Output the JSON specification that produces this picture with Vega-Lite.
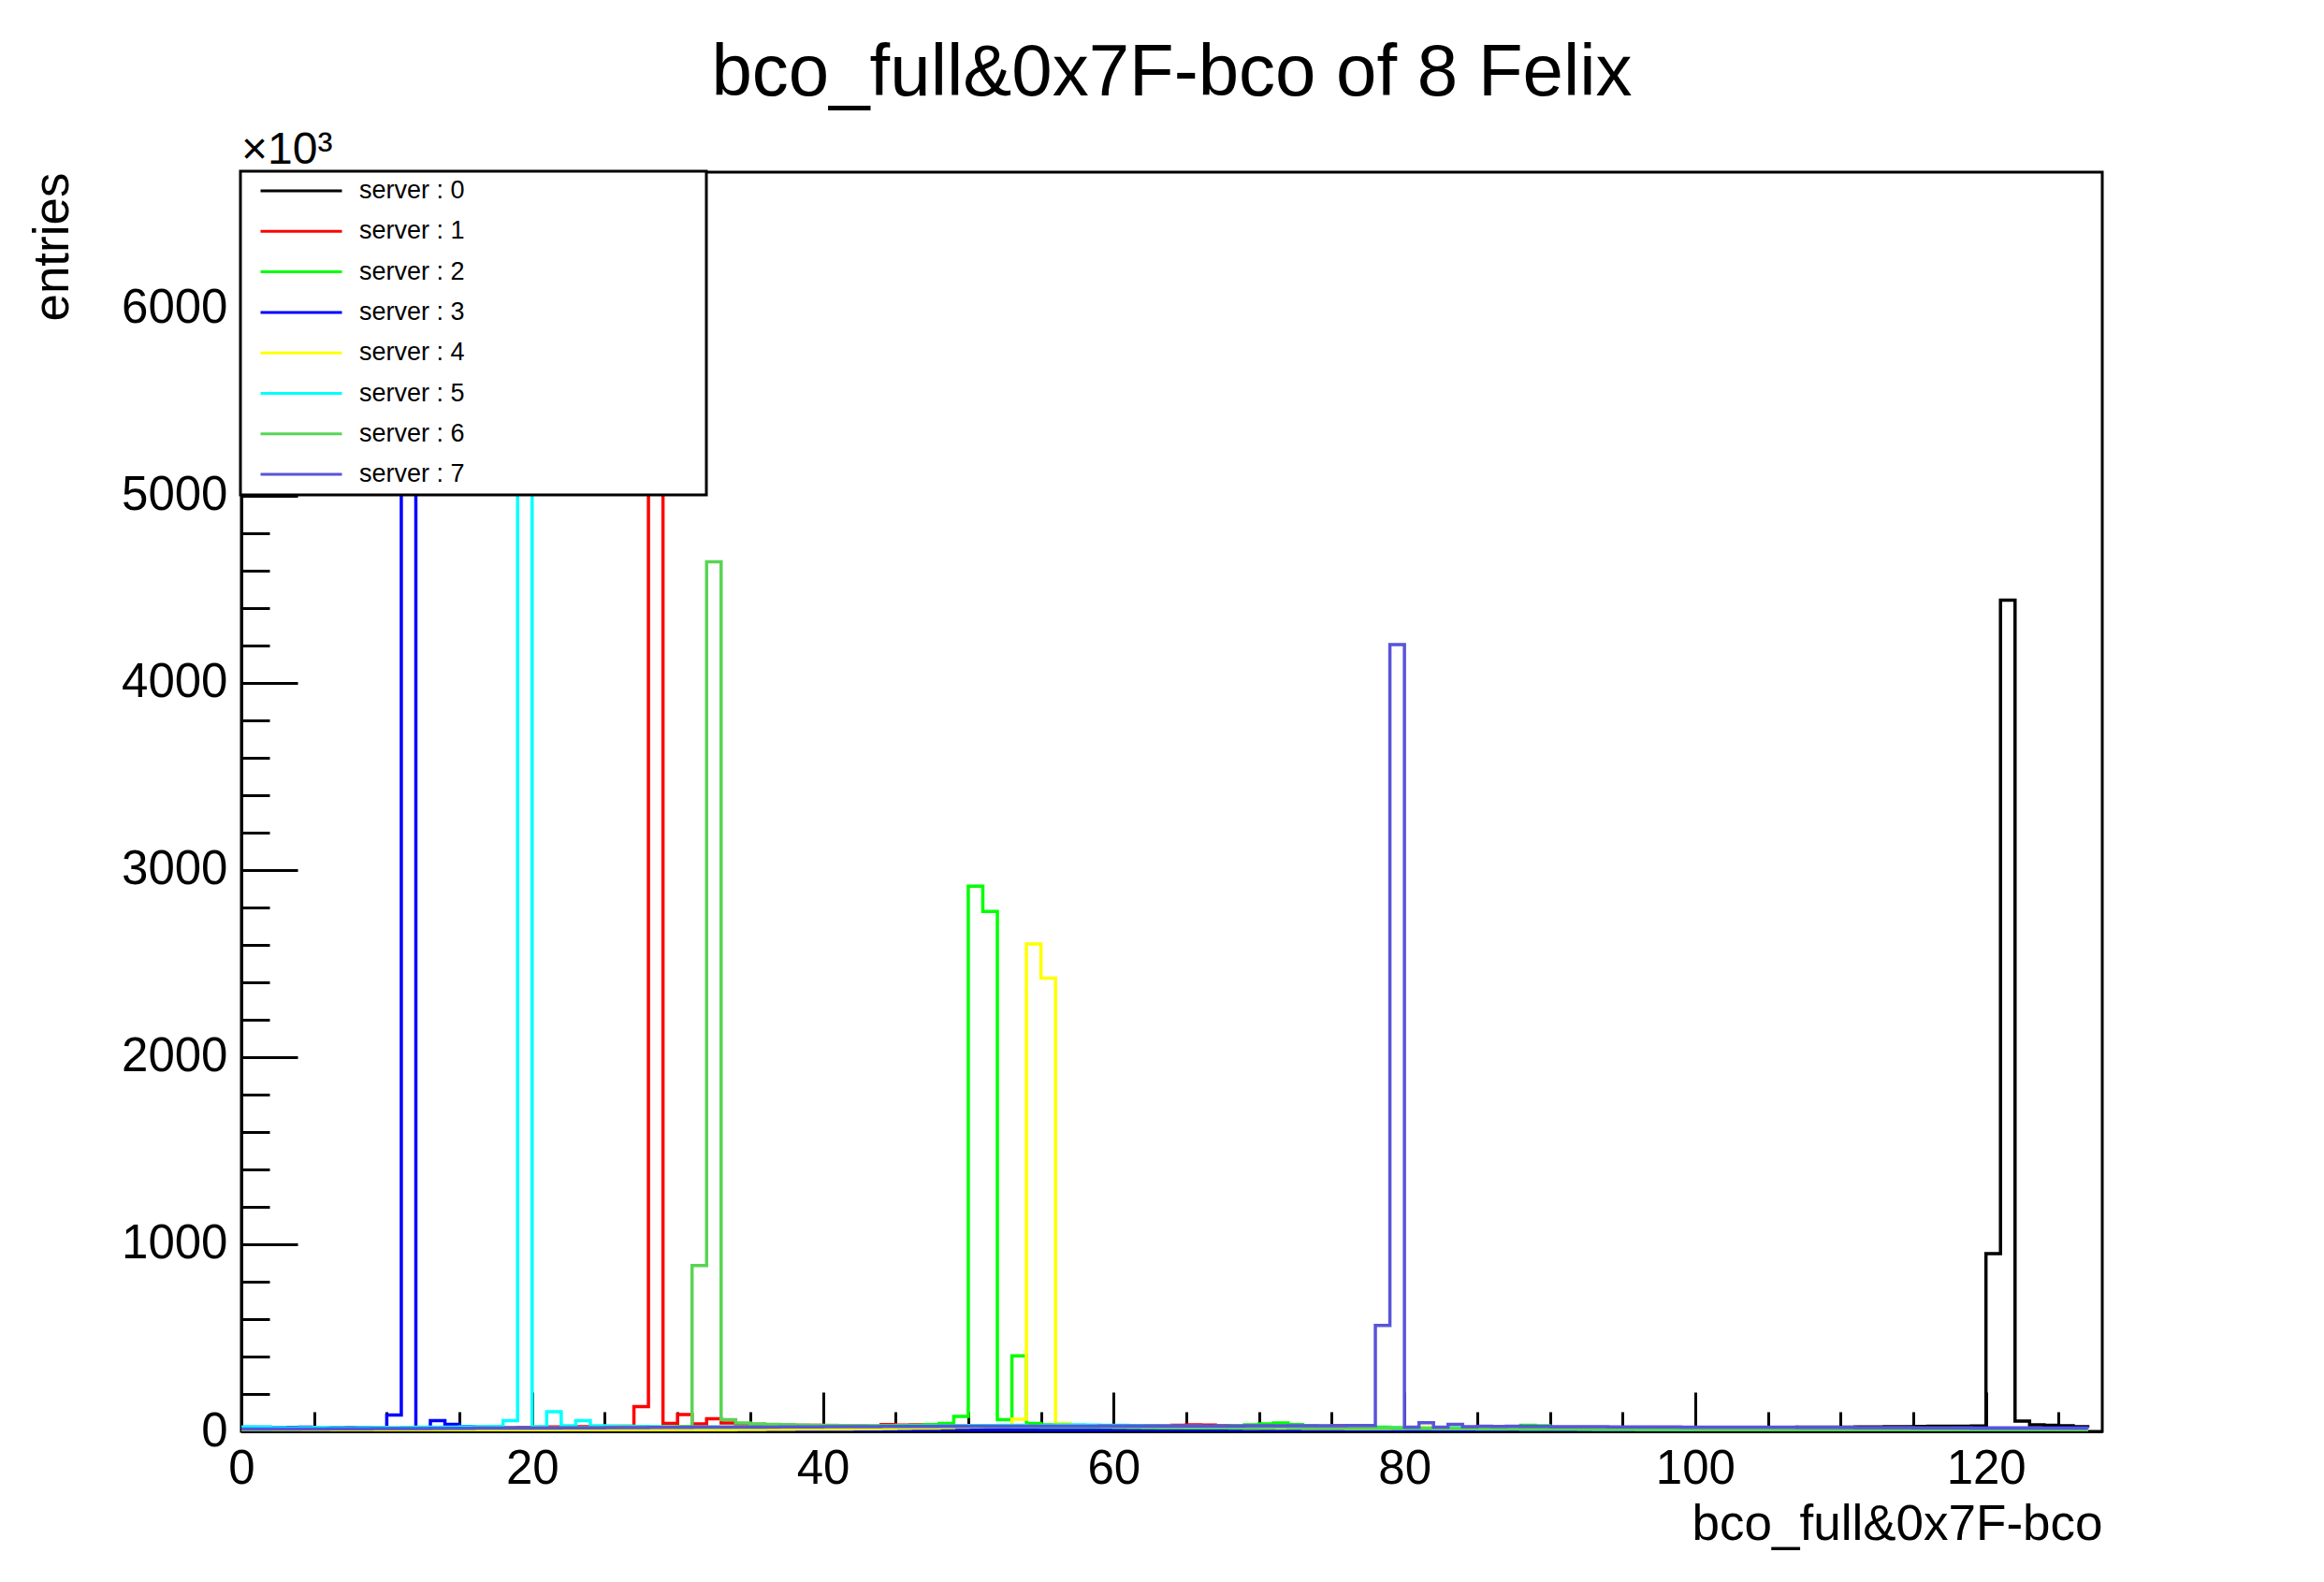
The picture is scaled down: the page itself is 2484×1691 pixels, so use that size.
{
  "$schema": "https://vega.github.io/schema/vega-lite/v6.json",
  "width": 1989,
  "height": 1346,
  "autosize": {"type": "none"},
  "padding": {"left": 258, "top": 184, "right": 237, "bottom": 161},
  "background": "white",
  "title": {
    "text": "bco_full&0x7F-bco of 8 Felix",
    "font": "Liberation Sans",
    "fontSize": 78,
    "fontWeight": "normal",
    "color": "black",
    "anchor": "middle",
    "frame": "group",
    "baseline": "alphabetic",
    "offset": 40,
    "dy": 83
  },
  "config": {
    "font": "Liberation Sans",
    "view": {"stroke": "black", "strokeWidth": 3},
    "axis": {
      "grid": false,
      "domainColor": "black",
      "domainWidth": 3,
      "tickColor": "black",
      "tickWidth": 3,
      "labelColor": "black",
      "labelFont": "Liberation Sans",
      "labelFontSize": 51,
      "labelOverlap": false,
      "labelFlush": false,
      "titleColor": "black",
      "titleFont": "Liberation Sans",
      "titleFontSize": 53,
      "titleFontWeight": "normal"
    }
  },
  "layer": [
    {
      "data": {
        "values": [
          {"srv":0,"bin":0,"n":18},{"srv":0,"bin":1,"n":16},{"srv":0,"bin":2,"n":15},{"srv":0,"bin":3,"n":14},{"srv":0,"bin":4,"n":14},{"srv":0,"bin":5,"n":13},{"srv":0,"bin":6,"n":12},{"srv":0,"bin":7,"n":12},{"srv":0,"bin":8,"n":11},{"srv":0,"bin":9,"n":11},
          {"srv":0,"bin":10,"n":10},{"srv":0,"bin":11,"n":10},{"srv":0,"bin":12,"n":9},{"srv":0,"bin":13,"n":9},{"srv":0,"bin":14,"n":9},{"srv":0,"bin":15,"n":8},{"srv":0,"bin":16,"n":8},{"srv":0,"bin":17,"n":8},{"srv":0,"bin":18,"n":9},{"srv":0,"bin":19,"n":8},
          {"srv":0,"bin":20,"n":8},{"srv":0,"bin":21,"n":7},{"srv":0,"bin":22,"n":7},{"srv":0,"bin":23,"n":8},{"srv":0,"bin":24,"n":7},{"srv":0,"bin":25,"n":7},{"srv":0,"bin":26,"n":7},{"srv":0,"bin":27,"n":6},{"srv":0,"bin":28,"n":7},{"srv":0,"bin":29,"n":7},
          {"srv":0,"bin":30,"n":8},{"srv":0,"bin":31,"n":7},{"srv":0,"bin":32,"n":7},{"srv":0,"bin":33,"n":6},{"srv":0,"bin":34,"n":6},{"srv":0,"bin":35,"n":6},{"srv":0,"bin":36,"n":7},{"srv":0,"bin":37,"n":6},{"srv":0,"bin":38,"n":6},{"srv":0,"bin":39,"n":6},
          {"srv":0,"bin":40,"n":6},{"srv":0,"bin":41,"n":6},{"srv":0,"bin":42,"n":6},{"srv":0,"bin":43,"n":5},{"srv":0,"bin":44,"n":6},{"srv":0,"bin":45,"n":6},{"srv":0,"bin":46,"n":5},{"srv":0,"bin":47,"n":5},{"srv":0,"bin":48,"n":6},{"srv":0,"bin":49,"n":5},
          {"srv":0,"bin":50,"n":5},{"srv":0,"bin":51,"n":5},{"srv":0,"bin":52,"n":5},{"srv":0,"bin":53,"n":6},{"srv":0,"bin":54,"n":5},{"srv":0,"bin":55,"n":5},{"srv":0,"bin":56,"n":5},{"srv":0,"bin":57,"n":5},{"srv":0,"bin":58,"n":5},{"srv":0,"bin":59,"n":5},
          {"srv":0,"bin":60,"n":5},{"srv":0,"bin":61,"n":6},{"srv":0,"bin":62,"n":5},{"srv":0,"bin":63,"n":5},{"srv":0,"bin":64,"n":5},{"srv":0,"bin":65,"n":6},{"srv":0,"bin":66,"n":6},{"srv":0,"bin":67,"n":6},{"srv":0,"bin":68,"n":7},{"srv":0,"bin":69,"n":6},
          {"srv":0,"bin":70,"n":7},{"srv":0,"bin":71,"n":7},{"srv":0,"bin":72,"n":7},{"srv":0,"bin":73,"n":8},{"srv":0,"bin":74,"n":8},{"srv":0,"bin":75,"n":8},{"srv":0,"bin":76,"n":9},{"srv":0,"bin":77,"n":9},{"srv":0,"bin":78,"n":9},{"srv":0,"bin":79,"n":10},
          {"srv":0,"bin":80,"n":10},{"srv":0,"bin":81,"n":10},{"srv":0,"bin":82,"n":11},{"srv":0,"bin":83,"n":11},{"srv":0,"bin":84,"n":11},{"srv":0,"bin":85,"n":12},{"srv":0,"bin":86,"n":12},{"srv":0,"bin":87,"n":12},{"srv":0,"bin":88,"n":13},{"srv":0,"bin":89,"n":13},
          {"srv":0,"bin":90,"n":14},{"srv":0,"bin":91,"n":14},{"srv":0,"bin":92,"n":14},{"srv":0,"bin":93,"n":15},{"srv":0,"bin":94,"n":15},{"srv":0,"bin":95,"n":16},{"srv":0,"bin":96,"n":16},{"srv":0,"bin":97,"n":17},{"srv":0,"bin":98,"n":17},{"srv":0,"bin":99,"n":18},
          {"srv":0,"bin":100,"n":18},{"srv":0,"bin":101,"n":19},{"srv":0,"bin":102,"n":19},{"srv":0,"bin":103,"n":20},{"srv":0,"bin":104,"n":20},{"srv":0,"bin":105,"n":21},{"srv":0,"bin":106,"n":21},{"srv":0,"bin":107,"n":22},{"srv":0,"bin":108,"n":22},{"srv":0,"bin":109,"n":23},
          {"srv":0,"bin":110,"n":23},{"srv":0,"bin":111,"n":24},{"srv":0,"bin":112,"n":24},{"srv":0,"bin":113,"n":25},{"srv":0,"bin":114,"n":25},{"srv":0,"bin":115,"n":26},{"srv":0,"bin":116,"n":27},{"srv":0,"bin":117,"n":27},{"srv":0,"bin":118,"n":28},{"srv":0,"bin":119,"n":29},
          {"srv":0,"bin":120,"n":950},{"srv":0,"bin":121,"n":4440},{"srv":0,"bin":122,"n":55},{"srv":0,"bin":123,"n":35},{"srv":0,"bin":124,"n":33},{"srv":0,"bin":125,"n":30},{"srv":0,"bin":126,"n":25},{"srv":0,"bin":127,"n":22},

          {"srv":1,"bin":0,"n":10},{"srv":1,"bin":1,"n":10},{"srv":1,"bin":2,"n":11},{"srv":1,"bin":3,"n":11},{"srv":1,"bin":4,"n":12},{"srv":1,"bin":5,"n":12},{"srv":1,"bin":6,"n":12},{"srv":1,"bin":7,"n":13},{"srv":1,"bin":8,"n":13},{"srv":1,"bin":9,"n":14},
          {"srv":1,"bin":10,"n":14},{"srv":1,"bin":11,"n":15},{"srv":1,"bin":12,"n":15},{"srv":1,"bin":13,"n":16},{"srv":1,"bin":14,"n":16},{"srv":1,"bin":15,"n":17},{"srv":1,"bin":16,"n":18},{"srv":1,"bin":17,"n":18},{"srv":1,"bin":18,"n":19},{"srv":1,"bin":19,"n":20},
          {"srv":1,"bin":20,"n":22},{"srv":1,"bin":21,"n":24},{"srv":1,"bin":22,"n":24},{"srv":1,"bin":23,"n":25},{"srv":1,"bin":24,"n":26},{"srv":1,"bin":25,"n":27},{"srv":1,"bin":26,"n":28},{"srv":1,"bin":27,"n":133},{"srv":1,"bin":28,"n":5710},{"srv":1,"bin":29,"n":42},
          {"srv":1,"bin":30,"n":90},{"srv":1,"bin":31,"n":40},{"srv":1,"bin":32,"n":67},{"srv":1,"bin":33,"n":45},{"srv":1,"bin":34,"n":40},{"srv":1,"bin":35,"n":38},{"srv":1,"bin":36,"n":36},{"srv":1,"bin":37,"n":34},{"srv":1,"bin":38,"n":33},{"srv":1,"bin":39,"n":32},
          {"srv":1,"bin":40,"n":30},{"srv":1,"bin":41,"n":30},{"srv":1,"bin":42,"n":29},{"srv":1,"bin":43,"n":28},{"srv":1,"bin":44,"n":36},{"srv":1,"bin":45,"n":34},{"srv":1,"bin":46,"n":35},{"srv":1,"bin":47,"n":30},{"srv":1,"bin":48,"n":28},{"srv":1,"bin":49,"n":27},
          {"srv":1,"bin":50,"n":26},{"srv":1,"bin":51,"n":25},{"srv":1,"bin":52,"n":26},{"srv":1,"bin":53,"n":27},{"srv":1,"bin":54,"n":28},{"srv":1,"bin":55,"n":30},{"srv":1,"bin":56,"n":29},{"srv":1,"bin":57,"n":28},{"srv":1,"bin":58,"n":27},{"srv":1,"bin":59,"n":26},
          {"srv":1,"bin":60,"n":28},{"srv":1,"bin":61,"n":30},{"srv":1,"bin":62,"n":30},{"srv":1,"bin":63,"n":29},{"srv":1,"bin":64,"n":32},{"srv":1,"bin":65,"n":35},{"srv":1,"bin":66,"n":34},{"srv":1,"bin":67,"n":30},{"srv":1,"bin":68,"n":28},{"srv":1,"bin":69,"n":27},
          {"srv":1,"bin":70,"n":26},{"srv":1,"bin":71,"n":25},{"srv":1,"bin":72,"n":24},{"srv":1,"bin":73,"n":24},{"srv":1,"bin":74,"n":23},{"srv":1,"bin":75,"n":30},{"srv":1,"bin":76,"n":22},{"srv":1,"bin":77,"n":21},{"srv":1,"bin":78,"n":20},{"srv":1,"bin":79,"n":20},
          {"srv":1,"bin":80,"n":19},{"srv":1,"bin":81,"n":18},{"srv":1,"bin":82,"n":17},{"srv":1,"bin":83,"n":16},{"srv":1,"bin":84,"n":16},{"srv":1,"bin":85,"n":15},{"srv":1,"bin":86,"n":14},{"srv":1,"bin":87,"n":14},{"srv":1,"bin":88,"n":13},{"srv":1,"bin":89,"n":13},
          {"srv":1,"bin":90,"n":12},{"srv":1,"bin":91,"n":12},{"srv":1,"bin":92,"n":11},{"srv":1,"bin":93,"n":11},{"srv":1,"bin":94,"n":10},{"srv":1,"bin":95,"n":10},{"srv":1,"bin":96,"n":10},{"srv":1,"bin":97,"n":9},{"srv":1,"bin":98,"n":9},{"srv":1,"bin":99,"n":9},
          {"srv":1,"bin":100,"n":8},{"srv":1,"bin":101,"n":8},{"srv":1,"bin":102,"n":8},{"srv":1,"bin":103,"n":8},{"srv":1,"bin":104,"n":7},{"srv":1,"bin":105,"n":7},{"srv":1,"bin":106,"n":7},{"srv":1,"bin":107,"n":7},{"srv":1,"bin":108,"n":7},{"srv":1,"bin":109,"n":6},
          {"srv":1,"bin":110,"n":6},{"srv":1,"bin":111,"n":6},{"srv":1,"bin":112,"n":6},{"srv":1,"bin":113,"n":6},{"srv":1,"bin":114,"n":6},{"srv":1,"bin":115,"n":6},{"srv":1,"bin":116,"n":6},{"srv":1,"bin":117,"n":5},{"srv":1,"bin":118,"n":5},{"srv":1,"bin":119,"n":5},
          {"srv":1,"bin":120,"n":5},{"srv":1,"bin":121,"n":5},{"srv":1,"bin":122,"n":5},{"srv":1,"bin":123,"n":5},{"srv":1,"bin":124,"n":5},{"srv":1,"bin":125,"n":5},{"srv":1,"bin":126,"n":5},{"srv":1,"bin":127,"n":5},

          {"srv":2,"bin":0,"n":8},{"srv":2,"bin":1,"n":8},{"srv":2,"bin":2,"n":9},{"srv":2,"bin":3,"n":9},{"srv":2,"bin":4,"n":9},{"srv":2,"bin":5,"n":10},{"srv":2,"bin":6,"n":10},{"srv":2,"bin":7,"n":10},{"srv":2,"bin":8,"n":11},{"srv":2,"bin":9,"n":11},
          {"srv":2,"bin":10,"n":11},{"srv":2,"bin":11,"n":12},{"srv":2,"bin":12,"n":12},{"srv":2,"bin":13,"n":12},{"srv":2,"bin":14,"n":13},{"srv":2,"bin":15,"n":13},{"srv":2,"bin":16,"n":14},{"srv":2,"bin":17,"n":14},{"srv":2,"bin":18,"n":15},{"srv":2,"bin":19,"n":15},
          {"srv":2,"bin":20,"n":16},{"srv":2,"bin":21,"n":16},{"srv":2,"bin":22,"n":17},{"srv":2,"bin":23,"n":17},{"srv":2,"bin":24,"n":18},{"srv":2,"bin":25,"n":18},{"srv":2,"bin":26,"n":19},{"srv":2,"bin":27,"n":20},{"srv":2,"bin":28,"n":20},{"srv":2,"bin":29,"n":21},
          {"srv":2,"bin":30,"n":21},{"srv":2,"bin":31,"n":22},{"srv":2,"bin":32,"n":22},{"srv":2,"bin":33,"n":23},{"srv":2,"bin":34,"n":23},{"srv":2,"bin":35,"n":24},{"srv":2,"bin":36,"n":24},{"srv":2,"bin":37,"n":25},{"srv":2,"bin":38,"n":26},{"srv":2,"bin":39,"n":26},
          {"srv":2,"bin":40,"n":27},{"srv":2,"bin":41,"n":28},{"srv":2,"bin":42,"n":28},{"srv":2,"bin":43,"n":29},{"srv":2,"bin":44,"n":30},{"srv":2,"bin":45,"n":31},{"srv":2,"bin":46,"n":33},{"srv":2,"bin":47,"n":36},{"srv":2,"bin":48,"n":42},{"srv":2,"bin":49,"n":80},
          {"srv":2,"bin":50,"n":2912},{"srv":2,"bin":51,"n":2778},{"srv":2,"bin":52,"n":63},{"srv":2,"bin":53,"n":404},{"srv":2,"bin":54,"n":42},{"srv":2,"bin":55,"n":35},{"srv":2,"bin":56,"n":32},{"srv":2,"bin":57,"n":30},{"srv":2,"bin":58,"n":29},{"srv":2,"bin":59,"n":28},
          {"srv":2,"bin":60,"n":27},{"srv":2,"bin":61,"n":27},{"srv":2,"bin":62,"n":26},{"srv":2,"bin":63,"n":26},{"srv":2,"bin":64,"n":25},{"srv":2,"bin":65,"n":25},{"srv":2,"bin":66,"n":26},{"srv":2,"bin":67,"n":27},{"srv":2,"bin":68,"n":30},{"srv":2,"bin":69,"n":35},
          {"srv":2,"bin":70,"n":40},{"srv":2,"bin":71,"n":45},{"srv":2,"bin":72,"n":36},{"srv":2,"bin":73,"n":30},{"srv":2,"bin":74,"n":27},{"srv":2,"bin":75,"n":25},{"srv":2,"bin":76,"n":24},{"srv":2,"bin":77,"n":23},{"srv":2,"bin":78,"n":22},{"srv":2,"bin":79,"n":21},
          {"srv":2,"bin":80,"n":20},{"srv":2,"bin":81,"n":20},{"srv":2,"bin":82,"n":19},{"srv":2,"bin":83,"n":19},{"srv":2,"bin":84,"n":18},{"srv":2,"bin":85,"n":18},{"srv":2,"bin":86,"n":20},{"srv":2,"bin":87,"n":24},{"srv":2,"bin":88,"n":32},{"srv":2,"bin":89,"n":30},
          {"srv":2,"bin":90,"n":18},{"srv":2,"bin":91,"n":17},{"srv":2,"bin":92,"n":16},{"srv":2,"bin":93,"n":16},{"srv":2,"bin":94,"n":15},{"srv":2,"bin":95,"n":15},{"srv":2,"bin":96,"n":14},{"srv":2,"bin":97,"n":14},{"srv":2,"bin":98,"n":13},{"srv":2,"bin":99,"n":13},
          {"srv":2,"bin":100,"n":12},{"srv":2,"bin":101,"n":12},{"srv":2,"bin":102,"n":12},{"srv":2,"bin":103,"n":11},{"srv":2,"bin":104,"n":11},{"srv":2,"bin":105,"n":11},{"srv":2,"bin":106,"n":10},{"srv":2,"bin":107,"n":10},{"srv":2,"bin":108,"n":10},{"srv":2,"bin":109,"n":10},
          {"srv":2,"bin":110,"n":9},{"srv":2,"bin":111,"n":9},{"srv":2,"bin":112,"n":9},{"srv":2,"bin":113,"n":9},{"srv":2,"bin":114,"n":8},{"srv":2,"bin":115,"n":8},{"srv":2,"bin":116,"n":8},{"srv":2,"bin":117,"n":8},{"srv":2,"bin":118,"n":8},{"srv":2,"bin":119,"n":8},
          {"srv":2,"bin":120,"n":7},{"srv":2,"bin":121,"n":7},{"srv":2,"bin":122,"n":7},{"srv":2,"bin":123,"n":7},{"srv":2,"bin":124,"n":7},{"srv":2,"bin":125,"n":7},{"srv":2,"bin":126,"n":7},{"srv":2,"bin":127,"n":7},

          {"srv":3,"bin":0,"n":22},{"srv":3,"bin":1,"n":22},{"srv":3,"bin":2,"n":21},{"srv":3,"bin":3,"n":21},{"srv":3,"bin":4,"n":22},{"srv":3,"bin":5,"n":21},{"srv":3,"bin":6,"n":20},{"srv":3,"bin":7,"n":20},{"srv":3,"bin":8,"n":20},{"srv":3,"bin":9,"n":21},
          {"srv":3,"bin":10,"n":88},{"srv":3,"bin":11,"n":6406},{"srv":3,"bin":12,"n":15},{"srv":3,"bin":13,"n":58},{"srv":3,"bin":14,"n":37},{"srv":3,"bin":15,"n":25},{"srv":3,"bin":16,"n":22},{"srv":3,"bin":17,"n":20},{"srv":3,"bin":18,"n":18},{"srv":3,"bin":19,"n":17},
          {"srv":3,"bin":20,"n":16},{"srv":3,"bin":21,"n":15},{"srv":3,"bin":22,"n":15},{"srv":3,"bin":23,"n":14},{"srv":3,"bin":24,"n":14},{"srv":3,"bin":25,"n":13},{"srv":3,"bin":26,"n":13},{"srv":3,"bin":27,"n":12},{"srv":3,"bin":28,"n":12},{"srv":3,"bin":29,"n":12},
          {"srv":3,"bin":30,"n":11},{"srv":3,"bin":31,"n":11},{"srv":3,"bin":32,"n":11},{"srv":3,"bin":33,"n":10},{"srv":3,"bin":34,"n":10},{"srv":3,"bin":35,"n":10},{"srv":3,"bin":36,"n":10},{"srv":3,"bin":37,"n":9},{"srv":3,"bin":38,"n":9},{"srv":3,"bin":39,"n":9},
          {"srv":3,"bin":40,"n":9},{"srv":3,"bin":41,"n":9},{"srv":3,"bin":42,"n":8},{"srv":3,"bin":43,"n":8},{"srv":3,"bin":44,"n":8},{"srv":3,"bin":45,"n":8},{"srv":3,"bin":46,"n":8},{"srv":3,"bin":47,"n":8},{"srv":3,"bin":48,"n":8},{"srv":3,"bin":49,"n":7},
          {"srv":3,"bin":50,"n":7},{"srv":3,"bin":51,"n":7},{"srv":3,"bin":52,"n":7},{"srv":3,"bin":53,"n":7},{"srv":3,"bin":54,"n":7},{"srv":3,"bin":55,"n":7},{"srv":3,"bin":56,"n":7},{"srv":3,"bin":57,"n":7},{"srv":3,"bin":58,"n":7},{"srv":3,"bin":59,"n":7},
          {"srv":3,"bin":60,"n":7},{"srv":3,"bin":61,"n":7},{"srv":3,"bin":62,"n":7},{"srv":3,"bin":63,"n":7},{"srv":3,"bin":64,"n":7},{"srv":3,"bin":65,"n":7},{"srv":3,"bin":66,"n":7},{"srv":3,"bin":67,"n":7},{"srv":3,"bin":68,"n":7},{"srv":3,"bin":69,"n":7},
          {"srv":3,"bin":70,"n":7},{"srv":3,"bin":71,"n":7},{"srv":3,"bin":72,"n":8},{"srv":3,"bin":73,"n":8},{"srv":3,"bin":74,"n":8},{"srv":3,"bin":75,"n":8},{"srv":3,"bin":76,"n":8},{"srv":3,"bin":77,"n":8},{"srv":3,"bin":78,"n":8},{"srv":3,"bin":79,"n":8},
          {"srv":3,"bin":80,"n":8},{"srv":3,"bin":81,"n":9},{"srv":3,"bin":82,"n":9},{"srv":3,"bin":83,"n":9},{"srv":3,"bin":84,"n":9},{"srv":3,"bin":85,"n":9},{"srv":3,"bin":86,"n":9},{"srv":3,"bin":87,"n":10},{"srv":3,"bin":88,"n":10},{"srv":3,"bin":89,"n":10},
          {"srv":3,"bin":90,"n":10},{"srv":3,"bin":91,"n":10},{"srv":3,"bin":92,"n":10},{"srv":3,"bin":93,"n":11},{"srv":3,"bin":94,"n":11},{"srv":3,"bin":95,"n":11},{"srv":3,"bin":96,"n":11},{"srv":3,"bin":97,"n":11},{"srv":3,"bin":98,"n":12},{"srv":3,"bin":99,"n":12},
          {"srv":3,"bin":100,"n":12},{"srv":3,"bin":101,"n":12},{"srv":3,"bin":102,"n":12},{"srv":3,"bin":103,"n":13},{"srv":3,"bin":104,"n":13},{"srv":3,"bin":105,"n":13},{"srv":3,"bin":106,"n":13},{"srv":3,"bin":107,"n":14},{"srv":3,"bin":108,"n":14},{"srv":3,"bin":109,"n":14},
          {"srv":3,"bin":110,"n":14},{"srv":3,"bin":111,"n":15},{"srv":3,"bin":112,"n":15},{"srv":3,"bin":113,"n":15},{"srv":3,"bin":114,"n":15},{"srv":3,"bin":115,"n":16},{"srv":3,"bin":116,"n":16},{"srv":3,"bin":117,"n":16},{"srv":3,"bin":118,"n":17},{"srv":3,"bin":119,"n":17},
          {"srv":3,"bin":120,"n":17},{"srv":3,"bin":121,"n":18},{"srv":3,"bin":122,"n":18},{"srv":3,"bin":123,"n":18},{"srv":3,"bin":124,"n":18},{"srv":3,"bin":125,"n":19},{"srv":3,"bin":126,"n":19},{"srv":3,"bin":127,"n":19},

          {"srv":4,"bin":0,"n":5},{"srv":4,"bin":1,"n":5},{"srv":4,"bin":2,"n":5},{"srv":4,"bin":3,"n":5},{"srv":4,"bin":4,"n":5},{"srv":4,"bin":5,"n":5},{"srv":4,"bin":6,"n":5},{"srv":4,"bin":7,"n":5},{"srv":4,"bin":8,"n":5},{"srv":4,"bin":9,"n":5},
          {"srv":4,"bin":10,"n":5},{"srv":4,"bin":11,"n":5},{"srv":4,"bin":12,"n":5},{"srv":4,"bin":13,"n":5},{"srv":4,"bin":14,"n":6},{"srv":4,"bin":15,"n":6},{"srv":4,"bin":16,"n":6},{"srv":4,"bin":17,"n":6},{"srv":4,"bin":18,"n":6},{"srv":4,"bin":19,"n":6},
          {"srv":4,"bin":20,"n":6},{"srv":4,"bin":21,"n":6},{"srv":4,"bin":22,"n":6},{"srv":4,"bin":23,"n":7},{"srv":4,"bin":24,"n":7},{"srv":4,"bin":25,"n":7},{"srv":4,"bin":26,"n":7},{"srv":4,"bin":27,"n":7},{"srv":4,"bin":28,"n":8},{"srv":4,"bin":29,"n":8},
          {"srv":4,"bin":30,"n":8},{"srv":4,"bin":31,"n":8},{"srv":4,"bin":32,"n":9},{"srv":4,"bin":33,"n":9},{"srv":4,"bin":34,"n":10},{"srv":4,"bin":35,"n":10},{"srv":4,"bin":36,"n":11},{"srv":4,"bin":37,"n":11},{"srv":4,"bin":38,"n":12},{"srv":4,"bin":39,"n":12},
          {"srv":4,"bin":40,"n":13},{"srv":4,"bin":41,"n":13},{"srv":4,"bin":42,"n":14},{"srv":4,"bin":43,"n":14},{"srv":4,"bin":44,"n":15},{"srv":4,"bin":45,"n":16},{"srv":4,"bin":46,"n":17},{"srv":4,"bin":47,"n":18},{"srv":4,"bin":48,"n":20},{"srv":4,"bin":49,"n":22},
          {"srv":4,"bin":50,"n":24},{"srv":4,"bin":51,"n":26},{"srv":4,"bin":52,"n":30},{"srv":4,"bin":53,"n":65},{"srv":4,"bin":54,"n":2604},{"srv":4,"bin":55,"n":2422},{"srv":4,"bin":56,"n":42},{"srv":4,"bin":57,"n":30},{"srv":4,"bin":58,"n":27},{"srv":4,"bin":59,"n":25},
          {"srv":4,"bin":60,"n":24},{"srv":4,"bin":61,"n":23},{"srv":4,"bin":62,"n":22},{"srv":4,"bin":63,"n":21},{"srv":4,"bin":64,"n":21},{"srv":4,"bin":65,"n":20},{"srv":4,"bin":66,"n":20},{"srv":4,"bin":67,"n":19},{"srv":4,"bin":68,"n":19},{"srv":4,"bin":69,"n":18},
          {"srv":4,"bin":70,"n":18},{"srv":4,"bin":71,"n":17},{"srv":4,"bin":72,"n":17},{"srv":4,"bin":73,"n":16},{"srv":4,"bin":74,"n":16},{"srv":4,"bin":75,"n":16},{"srv":4,"bin":76,"n":15},{"srv":4,"bin":77,"n":15},{"srv":4,"bin":78,"n":15},{"srv":4,"bin":79,"n":18},
          {"srv":4,"bin":80,"n":20},{"srv":4,"bin":81,"n":22},{"srv":4,"bin":82,"n":18},{"srv":4,"bin":83,"n":17},{"srv":4,"bin":84,"n":17},{"srv":4,"bin":85,"n":21},{"srv":4,"bin":86,"n":22},{"srv":4,"bin":87,"n":22},{"srv":4,"bin":88,"n":20},{"srv":4,"bin":89,"n":19},
          {"srv":4,"bin":90,"n":18},{"srv":4,"bin":91,"n":17},{"srv":4,"bin":92,"n":16},{"srv":4,"bin":93,"n":15},{"srv":4,"bin":94,"n":15},{"srv":4,"bin":95,"n":14},{"srv":4,"bin":96,"n":14},{"srv":4,"bin":97,"n":13},{"srv":4,"bin":98,"n":13},{"srv":4,"bin":99,"n":12},
          {"srv":4,"bin":100,"n":12},{"srv":4,"bin":101,"n":11},{"srv":4,"bin":102,"n":11},{"srv":4,"bin":103,"n":11},{"srv":4,"bin":104,"n":10},{"srv":4,"bin":105,"n":10},{"srv":4,"bin":106,"n":10},{"srv":4,"bin":107,"n":9},{"srv":4,"bin":108,"n":9},{"srv":4,"bin":109,"n":9},
          {"srv":4,"bin":110,"n":9},{"srv":4,"bin":111,"n":8},{"srv":4,"bin":112,"n":8},{"srv":4,"bin":113,"n":8},{"srv":4,"bin":114,"n":8},{"srv":4,"bin":115,"n":7},{"srv":4,"bin":116,"n":7},{"srv":4,"bin":117,"n":7},{"srv":4,"bin":118,"n":7},{"srv":4,"bin":119,"n":7},
          {"srv":4,"bin":120,"n":6},{"srv":4,"bin":121,"n":6},{"srv":4,"bin":122,"n":6},{"srv":4,"bin":123,"n":6},{"srv":4,"bin":124,"n":6},{"srv":4,"bin":125,"n":6},{"srv":4,"bin":126,"n":6},{"srv":4,"bin":127,"n":6},

          {"srv":5,"bin":0,"n":24},{"srv":5,"bin":1,"n":22},{"srv":5,"bin":2,"n":20},{"srv":5,"bin":3,"n":19},{"srv":5,"bin":4,"n":20},{"srv":5,"bin":5,"n":21},{"srv":5,"bin":6,"n":20},{"srv":5,"bin":7,"n":19},{"srv":5,"bin":8,"n":20},{"srv":5,"bin":9,"n":21},
          {"srv":5,"bin":10,"n":20},{"srv":5,"bin":11,"n":21},{"srv":5,"bin":12,"n":22},{"srv":5,"bin":13,"n":22},{"srv":5,"bin":14,"n":23},{"srv":5,"bin":15,"n":24},{"srv":5,"bin":16,"n":25},{"srv":5,"bin":17,"n":26},{"srv":5,"bin":18,"n":57},{"srv":5,"bin":19,"n":6080},
          {"srv":5,"bin":20,"n":25},{"srv":5,"bin":21,"n":105},{"srv":5,"bin":22,"n":30},{"srv":5,"bin":23,"n":57},{"srv":5,"bin":24,"n":30},{"srv":5,"bin":25,"n":28},{"srv":5,"bin":26,"n":27},{"srv":5,"bin":27,"n":26},{"srv":5,"bin":28,"n":25},{"srv":5,"bin":29,"n":24},
          {"srv":5,"bin":30,"n":23},{"srv":5,"bin":31,"n":23},{"srv":5,"bin":32,"n":22},{"srv":5,"bin":33,"n":22},{"srv":5,"bin":34,"n":22},{"srv":5,"bin":35,"n":23},{"srv":5,"bin":36,"n":24},{"srv":5,"bin":37,"n":25},{"srv":5,"bin":38,"n":25},{"srv":5,"bin":39,"n":26},
          {"srv":5,"bin":40,"n":26},{"srv":5,"bin":41,"n":27},{"srv":5,"bin":42,"n":27},{"srv":5,"bin":43,"n":28},{"srv":5,"bin":44,"n":28},{"srv":5,"bin":45,"n":28},{"srv":5,"bin":46,"n":29},{"srv":5,"bin":47,"n":29},{"srv":5,"bin":48,"n":30},{"srv":5,"bin":49,"n":30},
          {"srv":5,"bin":50,"n":31},{"srv":5,"bin":51,"n":31},{"srv":5,"bin":52,"n":32},{"srv":5,"bin":53,"n":33},{"srv":5,"bin":54,"n":28},{"srv":5,"bin":55,"n":30},{"srv":5,"bin":56,"n":35},{"srv":5,"bin":57,"n":35},{"srv":5,"bin":58,"n":34},{"srv":5,"bin":59,"n":33},
          {"srv":5,"bin":60,"n":32},{"srv":5,"bin":61,"n":31},{"srv":5,"bin":62,"n":30},{"srv":5,"bin":63,"n":29},{"srv":5,"bin":64,"n":28},{"srv":5,"bin":65,"n":27},{"srv":5,"bin":66,"n":26},{"srv":5,"bin":67,"n":25},{"srv":5,"bin":68,"n":25},{"srv":5,"bin":69,"n":24},
          {"srv":5,"bin":70,"n":23},{"srv":5,"bin":71,"n":22},{"srv":5,"bin":72,"n":22},{"srv":5,"bin":73,"n":21},{"srv":5,"bin":74,"n":20},{"srv":5,"bin":75,"n":20},{"srv":5,"bin":76,"n":19},{"srv":5,"bin":77,"n":19},{"srv":5,"bin":78,"n":18},{"srv":5,"bin":79,"n":18},
          {"srv":5,"bin":80,"n":17},{"srv":5,"bin":81,"n":17},{"srv":5,"bin":82,"n":16},{"srv":5,"bin":83,"n":16},{"srv":5,"bin":84,"n":15},{"srv":5,"bin":85,"n":15},{"srv":5,"bin":86,"n":14},{"srv":5,"bin":87,"n":14},{"srv":5,"bin":88,"n":13},{"srv":5,"bin":89,"n":13},
          {"srv":5,"bin":90,"n":12},{"srv":5,"bin":91,"n":12},{"srv":5,"bin":92,"n":12},{"srv":5,"bin":93,"n":11},{"srv":5,"bin":94,"n":11},{"srv":5,"bin":95,"n":11},{"srv":5,"bin":96,"n":10},{"srv":5,"bin":97,"n":10},{"srv":5,"bin":98,"n":10},{"srv":5,"bin":99,"n":9},
          {"srv":5,"bin":100,"n":9},{"srv":5,"bin":101,"n":9},{"srv":5,"bin":102,"n":9},{"srv":5,"bin":103,"n":8},{"srv":5,"bin":104,"n":8},{"srv":5,"bin":105,"n":8},{"srv":5,"bin":106,"n":8},{"srv":5,"bin":107,"n":8},{"srv":5,"bin":108,"n":7},{"srv":5,"bin":109,"n":7},
          {"srv":5,"bin":110,"n":7},{"srv":5,"bin":111,"n":7},{"srv":5,"bin":112,"n":7},{"srv":5,"bin":113,"n":7},{"srv":5,"bin":114,"n":6},{"srv":5,"bin":115,"n":6},{"srv":5,"bin":116,"n":6},{"srv":5,"bin":117,"n":6},{"srv":5,"bin":118,"n":6},{"srv":5,"bin":119,"n":6},
          {"srv":5,"bin":120,"n":6},{"srv":5,"bin":121,"n":6},{"srv":5,"bin":122,"n":5},{"srv":5,"bin":123,"n":5},{"srv":5,"bin":124,"n":5},{"srv":5,"bin":125,"n":5},{"srv":5,"bin":126,"n":5},{"srv":5,"bin":127,"n":5},

          {"srv":6,"bin":0,"n":10},{"srv":6,"bin":1,"n":10},{"srv":6,"bin":2,"n":11},{"srv":6,"bin":3,"n":11},{"srv":6,"bin":4,"n":12},{"srv":6,"bin":5,"n":12},{"srv":6,"bin":6,"n":12},{"srv":6,"bin":7,"n":13},{"srv":6,"bin":8,"n":13},{"srv":6,"bin":9,"n":14},
          {"srv":6,"bin":10,"n":14},{"srv":6,"bin":11,"n":14},{"srv":6,"bin":12,"n":15},{"srv":6,"bin":13,"n":15},{"srv":6,"bin":14,"n":16},{"srv":6,"bin":15,"n":16},{"srv":6,"bin":16,"n":17},{"srv":6,"bin":17,"n":17},{"srv":6,"bin":18,"n":18},{"srv":6,"bin":19,"n":18},
          {"srv":6,"bin":20,"n":19},{"srv":6,"bin":21,"n":19},{"srv":6,"bin":22,"n":20},{"srv":6,"bin":23,"n":20},{"srv":6,"bin":24,"n":21},{"srv":6,"bin":25,"n":21},{"srv":6,"bin":26,"n":22},{"srv":6,"bin":27,"n":22},{"srv":6,"bin":28,"n":23},{"srv":6,"bin":29,"n":24},
          {"srv":6,"bin":30,"n":26},{"srv":6,"bin":31,"n":886},{"srv":6,"bin":32,"n":4646},{"srv":6,"bin":33,"n":63},{"srv":6,"bin":34,"n":45},{"srv":6,"bin":35,"n":40},{"srv":6,"bin":36,"n":38},{"srv":6,"bin":37,"n":36},{"srv":6,"bin":38,"n":34},{"srv":6,"bin":39,"n":33},
          {"srv":6,"bin":40,"n":32},{"srv":6,"bin":41,"n":31},{"srv":6,"bin":42,"n":30},{"srv":6,"bin":43,"n":29},{"srv":6,"bin":44,"n":29},{"srv":6,"bin":45,"n":28},{"srv":6,"bin":46,"n":28},{"srv":6,"bin":47,"n":27},{"srv":6,"bin":48,"n":27},{"srv":6,"bin":49,"n":26},
          {"srv":6,"bin":50,"n":26},{"srv":6,"bin":51,"n":25},{"srv":6,"bin":52,"n":25},{"srv":6,"bin":53,"n":24},{"srv":6,"bin":54,"n":24},{"srv":6,"bin":55,"n":23},{"srv":6,"bin":56,"n":23},{"srv":6,"bin":57,"n":22},{"srv":6,"bin":58,"n":22},{"srv":6,"bin":59,"n":22},
          {"srv":6,"bin":60,"n":21},{"srv":6,"bin":61,"n":21},{"srv":6,"bin":62,"n":20},{"srv":6,"bin":63,"n":20},{"srv":6,"bin":64,"n":20},{"srv":6,"bin":65,"n":19},{"srv":6,"bin":66,"n":19},{"srv":6,"bin":67,"n":19},{"srv":6,"bin":68,"n":18},{"srv":6,"bin":69,"n":18},
          {"srv":6,"bin":70,"n":20},{"srv":6,"bin":71,"n":22},{"srv":6,"bin":72,"n":20},{"srv":6,"bin":73,"n":18},{"srv":6,"bin":74,"n":17},{"srv":6,"bin":75,"n":17},{"srv":6,"bin":76,"n":16},{"srv":6,"bin":77,"n":16},{"srv":6,"bin":78,"n":16},{"srv":6,"bin":79,"n":15},
          {"srv":6,"bin":80,"n":15},{"srv":6,"bin":81,"n":15},{"srv":6,"bin":82,"n":14},{"srv":6,"bin":83,"n":14},{"srv":6,"bin":84,"n":14},{"srv":6,"bin":85,"n":13},{"srv":6,"bin":86,"n":13},{"srv":6,"bin":87,"n":13},{"srv":6,"bin":88,"n":12},{"srv":6,"bin":89,"n":12},
          {"srv":6,"bin":90,"n":12},{"srv":6,"bin":91,"n":12},{"srv":6,"bin":92,"n":11},{"srv":6,"bin":93,"n":11},{"srv":6,"bin":94,"n":11},{"srv":6,"bin":95,"n":11},{"srv":6,"bin":96,"n":10},{"srv":6,"bin":97,"n":10},{"srv":6,"bin":98,"n":10},{"srv":6,"bin":99,"n":10},
          {"srv":6,"bin":100,"n":9},{"srv":6,"bin":101,"n":9},{"srv":6,"bin":102,"n":9},{"srv":6,"bin":103,"n":9},{"srv":6,"bin":104,"n":9},{"srv":6,"bin":105,"n":8},{"srv":6,"bin":106,"n":8},{"srv":6,"bin":107,"n":8},{"srv":6,"bin":108,"n":8},{"srv":6,"bin":109,"n":8},
          {"srv":6,"bin":110,"n":8},{"srv":6,"bin":111,"n":7},{"srv":6,"bin":112,"n":7},{"srv":6,"bin":113,"n":7},{"srv":6,"bin":114,"n":7},{"srv":6,"bin":115,"n":7},{"srv":6,"bin":116,"n":7},{"srv":6,"bin":117,"n":6},{"srv":6,"bin":118,"n":6},{"srv":6,"bin":119,"n":6},
          {"srv":6,"bin":120,"n":6},{"srv":6,"bin":121,"n":6},{"srv":6,"bin":122,"n":6},{"srv":6,"bin":123,"n":6},{"srv":6,"bin":124,"n":6},{"srv":6,"bin":125,"n":6},{"srv":6,"bin":126,"n":6},{"srv":6,"bin":127,"n":6},

          {"srv":7,"bin":0,"n":12},{"srv":7,"bin":1,"n":12},{"srv":7,"bin":2,"n":12},{"srv":7,"bin":3,"n":13},{"srv":7,"bin":4,"n":13},{"srv":7,"bin":5,"n":13},{"srv":7,"bin":6,"n":14},{"srv":7,"bin":7,"n":14},{"srv":7,"bin":8,"n":14},{"srv":7,"bin":9,"n":15},
          {"srv":7,"bin":10,"n":15},{"srv":7,"bin":11,"n":15},{"srv":7,"bin":12,"n":15},{"srv":7,"bin":13,"n":16},{"srv":7,"bin":14,"n":16},{"srv":7,"bin":15,"n":16},{"srv":7,"bin":16,"n":17},{"srv":7,"bin":17,"n":17},{"srv":7,"bin":18,"n":17},{"srv":7,"bin":19,"n":18},
          {"srv":7,"bin":20,"n":18},{"srv":7,"bin":21,"n":18},{"srv":7,"bin":22,"n":19},{"srv":7,"bin":23,"n":19},{"srv":7,"bin":24,"n":19},{"srv":7,"bin":25,"n":20},{"srv":7,"bin":26,"n":20},{"srv":7,"bin":27,"n":20},{"srv":7,"bin":28,"n":21},{"srv":7,"bin":29,"n":21},
          {"srv":7,"bin":30,"n":21},{"srv":7,"bin":31,"n":22},{"srv":7,"bin":32,"n":22},{"srv":7,"bin":33,"n":22},{"srv":7,"bin":34,"n":23},{"srv":7,"bin":35,"n":23},{"srv":7,"bin":36,"n":23},{"srv":7,"bin":37,"n":24},{"srv":7,"bin":38,"n":24},{"srv":7,"bin":39,"n":24},
          {"srv":7,"bin":40,"n":25},{"srv":7,"bin":41,"n":25},{"srv":7,"bin":42,"n":25},{"srv":7,"bin":43,"n":25},{"srv":7,"bin":44,"n":26},{"srv":7,"bin":45,"n":26},{"srv":7,"bin":46,"n":26},{"srv":7,"bin":47,"n":26},{"srv":7,"bin":48,"n":27},{"srv":7,"bin":49,"n":27},
          {"srv":7,"bin":50,"n":27},{"srv":7,"bin":51,"n":27},{"srv":7,"bin":52,"n":27},{"srv":7,"bin":53,"n":28},{"srv":7,"bin":54,"n":28},{"srv":7,"bin":55,"n":28},{"srv":7,"bin":56,"n":28},{"srv":7,"bin":57,"n":28},{"srv":7,"bin":58,"n":28},{"srv":7,"bin":59,"n":29},
          {"srv":7,"bin":60,"n":29},{"srv":7,"bin":61,"n":29},{"srv":7,"bin":62,"n":29},{"srv":7,"bin":63,"n":29},{"srv":7,"bin":64,"n":29},{"srv":7,"bin":65,"n":29},{"srv":7,"bin":66,"n":29},{"srv":7,"bin":67,"n":29},{"srv":7,"bin":68,"n":29},{"srv":7,"bin":69,"n":30},
          {"srv":7,"bin":70,"n":30},{"srv":7,"bin":71,"n":30},{"srv":7,"bin":72,"n":30},{"srv":7,"bin":73,"n":30},{"srv":7,"bin":74,"n":30},{"srv":7,"bin":75,"n":30},{"srv":7,"bin":76,"n":31},{"srv":7,"bin":77,"n":31},{"srv":7,"bin":78,"n":566},{"srv":7,"bin":79,"n":4203},
          {"srv":7,"bin":80,"n":22},{"srv":7,"bin":81,"n":46},{"srv":7,"bin":82,"n":22},{"srv":7,"bin":83,"n":37},{"srv":7,"bin":84,"n":25},{"srv":7,"bin":85,"n":28},{"srv":7,"bin":86,"n":26},{"srv":7,"bin":87,"n":27},{"srv":7,"bin":88,"n":26},{"srv":7,"bin":89,"n":26},
          {"srv":7,"bin":90,"n":25},{"srv":7,"bin":91,"n":25},{"srv":7,"bin":92,"n":25},{"srv":7,"bin":93,"n":25},{"srv":7,"bin":94,"n":24},{"srv":7,"bin":95,"n":24},{"srv":7,"bin":96,"n":24},{"srv":7,"bin":97,"n":24},{"srv":7,"bin":98,"n":24},{"srv":7,"bin":99,"n":23},
          {"srv":7,"bin":100,"n":23},{"srv":7,"bin":101,"n":23},{"srv":7,"bin":102,"n":23},{"srv":7,"bin":103,"n":22},{"srv":7,"bin":104,"n":22},{"srv":7,"bin":105,"n":22},{"srv":7,"bin":106,"n":22},{"srv":7,"bin":107,"n":21},{"srv":7,"bin":108,"n":21},{"srv":7,"bin":109,"n":21},
          {"srv":7,"bin":110,"n":21},{"srv":7,"bin":111,"n":20},{"srv":7,"bin":112,"n":20},{"srv":7,"bin":113,"n":20},{"srv":7,"bin":114,"n":20},{"srv":7,"bin":115,"n":19},{"srv":7,"bin":116,"n":19},{"srv":7,"bin":117,"n":19},{"srv":7,"bin":118,"n":19},{"srv":7,"bin":119,"n":18},
          {"srv":7,"bin":120,"n":18},{"srv":7,"bin":121,"n":18},{"srv":7,"bin":122,"n":18},{"srv":7,"bin":123,"n":17},{"srv":7,"bin":124,"n":17},{"srv":7,"bin":125,"n":17},{"srv":7,"bin":126,"n":17},{"srv":7,"bin":127,"n":16}
        ]
      },
      "mark": {"type": "line", "interpolate": "step-after", "strokeWidth": 3.5, "clip": true},
      "encoding": {
        "x": {
          "field": "bin",
          "type": "quantitative",
          "scale": {"domain": [0, 128], "nice": false, "zero": false},
          "axis": {
            "title": "bco_full&0x7F-bco",
            "values": [0,5,10,15,20,25,30,35,40,45,50,55,60,65,70,75,80,85,90,95,100,105,110,115,120,125],
            "format": "d",
            "labelExpr": "datum.value % 20 === 0 ? datum.label : ''",
            "tickSize": {"condition": {"test": "datum.value % 20 === 0", "value": -42}, "value": -21},
            "labelPadding": 97,
            "labelBaseline": "alphabetic",
            "titleX": 1989,
            "titleY": 115,
            "titleAlign": "right",
            "titleBaseline": "alphabetic"
          }
        },
        "y": {
          "field": "n",
          "type": "quantitative",
          "scale": {"domain": [0, 6727], "nice": false},
          "axis": {
            "title": "entries",
            "values": [0,200,400,600,800,1000,1200,1400,1600,1800,2000,2200,2400,2600,2800,3000,3200,3400,3600,3800,4000,4200,4400,4600,4800,5000,5200,5400,5600,5800,6000,6200,6400,6600],
            "format": "d",
            "labelExpr": "datum.value % 1000 === 0 ? datum.label : ''",
            "tickSize": {"condition": {"test": "datum.value % 1000 === 0", "value": -60}, "value": -30},
            "labelPadding": 75,
            "labelBaseline": "middle",
            "titleAngle": -90,
            "titleX": -186,
            "titleY": 0,
            "titleAlign": "right",
            "titleBaseline": "alphabetic"
          }
        },
        "color": {
          "field": "srv",
          "type": "nominal",
          "scale": {
            "domain": [0, 1, 2, 3, 4, 5, 6, 7],
            "range": ["#000000", "#ff0000", "#00ff00", "#0000ff", "#ffff00", "#00ffff", "#59d454", "#5954d9"]
          },
          "legend": {
            "orient": "none",
            "legendX": -1,
            "legendY": -1,
            "title": null,
            "symbolType": "stroke",
            "symbolSize": 7569,
            "symbolStrokeWidth": 3,
            "labelExpr": "'server : ' + datum.label",
            "labelFont": "Liberation Sans",
            "labelFontSize": 27,
            "labelColor": "black",
            "labelLimit": 400,
            "labelOffset": 17,
            "symbolOffset": 12.5,
            "padding": 7.5,
            "rowPadding": 15.3,
            "clipHeight": 27,
            "fillColor": "white",
            "strokeColor": "black",
            "encode": {
              "legend": {"update": {"strokeWidth": {"value": 3}}},
              "entries": {"update": {"width": {"value": 483}}}
            }
          }
        }
      }
    },
    {
      "data": {"values": [{"mult": "×10³"}]},
      "mark": {"type": "text", "align": "left", "baseline": "alphabetic", "fontSize": 48, "font": "Liberation Sans", "color": "black", "dy": -9, "clip": false},
      "encoding": {
        "x": {"datum": 0, "type": "quantitative"},
        "y": {"datum": 6727, "type": "quantitative"},
        "text": {"field": "mult"}
      }
    }
  ]
}
